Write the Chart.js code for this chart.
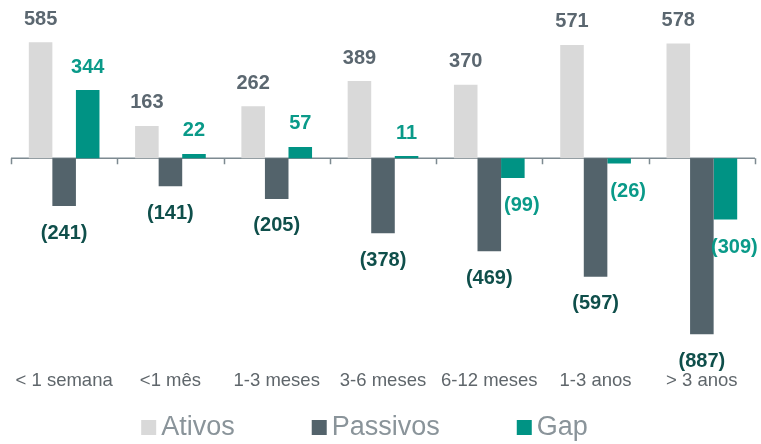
<!DOCTYPE html>
<html>
<head>
<meta charset="utf-8">
<script src="https://cdn.jsdelivr.net/npm/chart.js@4.4.0/dist/chart.umd.min.js"></script>
<style>
  html, body { margin: 0; padding: 0; background: #ffffff; }
  #wrap { width: 761px; height: 444px; position: relative; }
</style>
</head>
<body>
<div id="wrap"><canvas id="c" width="761" height="444"></canvas></div>
<script>
const categories = ['< 1 semana', '<1 mês', '1-3 meses', '3-6 meses', '6-12 meses', '1-3 anos', '> 3 anos'];
const ativos = [585, 163, 262, 389, 370, 571, 578];
const passivos = [-241, -141, -205, -378, -469, -597, -887];
const gap = [344, 22, 57, 11, -99, -26, -309];

const seriesNames = ['Ativos', 'Passivos', 'Gap'];
const barColors = ['#d9d9d9', '#53636b', '#009384'];
const labelColors = ['#5b6770', '#0f4f4b', '#0a9a89'];
const FONT = '"Liberation Sans", Arial, sans-serif';

function fmt(v) { return v < 0 ? '(' + Math.abs(v) + ')' : String(v); }

const valueLabels = {
  id: 'valueLabels',
  afterDatasetsDraw(chart) {
    const ctx = chart.ctx;
    ctx.save();
    ctx.font = 'bold 20px ' + FONT;
    ctx.textAlign = 'center';
    ctx.textBaseline = 'middle';
    chart.data.datasets.forEach((ds, di) => {
      const meta = chart.getDatasetMeta(di);
      meta.data.forEach((bar, i) => {
        const v = ds.data[i];
        let x = bar.x, y;
        if (v >= 0) {
          y = bar.y - 23;
        } else {
          y = bar.y + 27;
          if (di === 2) { x += 9; y = bar.y + 28; }
        }
        ctx.fillStyle = labelColors[di];
        ctx.fillText(fmt(v), x, y);
      });
    });
    ctx.restore();
  }
};

const zeroAxis = {
  id: 'zeroAxis',
  beforeDatasetsDraw(chart) {
    const ctx = chart.ctx;
    const xs = chart.scales.x, ys = chart.scales.y;
    const y0 = ys.getPixelForValue(0);
    ctx.save();
    ctx.strokeStyle = '#7d8a91';
    ctx.lineWidth = 1.5;
    ctx.beginPath();
    ctx.moveTo(xs.left, y0);
    ctx.lineTo(xs.right, y0);
    const n = categories.length;
    const w = (xs.right - xs.left) / n;
    for (let i = 0; i <= n; i++) {
      const px = Math.round(xs.getPixelForValue(0) - w / 2 + i * w) + 0.5;
      ctx.moveTo(px, y0);
      ctx.lineTo(px, y0 + 6);
    }
    ctx.stroke();
    ctx.restore();
  }
};

const customLegend = {
  id: 'customLegend',
  afterDraw(chart) {
    const ctx = chart.ctx;
    ctx.save();
    ctx.font = '27px ' + FONT;
    ctx.textBaseline = 'middle';
    ctx.textAlign = 'left';
    const box = 15, gapBoxText = 5, gapItems = 77;
    const widths = seriesNames.map(n => ctx.measureText(n).width);
    const total = widths.reduce((a, w) => a + box + gapBoxText + w, 0) + gapItems * (seriesNames.length - 1);
    let x = chart.width / 2 - 16 - total / 2;
    const yc = 428;
    seriesNames.forEach((n, i) => {
      ctx.fillStyle = barColors[i];
      ctx.fillRect(x, yc - box / 2 - 0.5, box, box);
      ctx.fillStyle = '#8a949a';
      ctx.fillText(n, x + box + gapBoxText, yc);
      x += box + gapBoxText + widths[i] + gapItems;
    });
    ctx.restore();
  }
};

new Chart(document.getElementById('c'), {
  type: 'bar',
  data: {
    labels: categories,
    datasets: [
      { label: seriesNames[0], data: ativos, backgroundColor: barColors[0] },
      { label: seriesNames[1], data: passivos, backgroundColor: barColors[1] },
      { label: seriesNames[2], data: gap, backgroundColor: barColors[2] }
    ]
  },
  options: {
    responsive: false,
    animation: false,
    devicePixelRatio: 1,
    layout: { padding: { left: 11, right: 6, top: 10, bottom: 43 } },
    datasets: { bar: { categoryPercentage: 0.665, barPercentage: 1.0, borderWidth: 0 } },
    scales: {
      x: {
        grid: { display: false },
        border: { display: false },
        ticks: {
          color: '#5f666b',
          font: { family: FONT, size: 18.5 },
          padding: 9,
          maxRotation: 0,
          autoSkip: false
        }
      },
      y: {
        display: false,
        min: -980,
        max: 747
      }
    },
    plugins: {
      legend: { display: false },
      tooltip: { enabled: false }
    }
  },
  plugins: [zeroAxis, valueLabels, customLegend]
});
</script>
</body>
</html>
